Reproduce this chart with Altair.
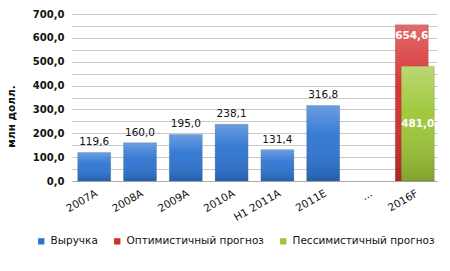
import altair as alt
import pandas as pd

categories = ["2007A", "2008A", "2009A", "2010A", "H1 2011A", "2011E", "...", "2016F"]
revenue = [119.6, 160.0, 195.0, 238.1, 131.4, 316.8, None, None]
optimistic = [None, None, None, None, None, None, None, 654.6]
pessimistic = [None, None, None, None, None, None, None, 481.0]
series_names = ["Выручка", "Оптимистичный прогноз", "Пессимистичный прогноз"]
series_colors = ["#2C74D2", "#D42B2B", "#9DC636"]
y_ticks = [0, 50, 100, 150, 200, 250, 300, 350, 400, 450, 500, 550, 600, 650, 700]

rows = []
for name, vals in zip(series_names, [revenue, optimistic, pessimistic]):
    for c, v in zip(categories, vals):
        if v is not None:
            rows.append({"cat": c, "series": name, "value": v})
df = pd.DataFrame(rows)

base = alt.Chart(df).transform_calculate(
    lbl="replace(format(datum.value, '.1f'), '.', ',')",
    mid="datum.value / 2"
)

x = alt.X("cat:N", scale=alt.Scale(domain=categories, paddingInner=0.27, paddingOuter=0.12),
          axis=alt.Axis(title=None, labelAngle=-30, labelAlign="right", labelBaseline="top",
                        labelFont="DejaVu Sans", labelFontSize=10.5, labelColor="#111",
                        labelPadding=7, ticks=False, domainColor="#aaaaaa", grid=False))
yscale = alt.Scale(domain=[0, 700], nice=False)
yaxis = alt.Axis(title="млн долл.", values=y_ticks, labelOverlap=False,
                 labelExpr="datum.value % 100 == 0 ? replace(format(datum.value, '.1f'), '.', ',') : ''",
                 labelFont="DejaVu Sans", labelFontWeight="bold", labelFontSize=10,
                 labelColor="#111", labelPadding=8,
                 titleFont="DejaVu Sans", titleFontWeight="bold", titleFontSize=10.5,
                 titleColor="#111", titleX=-56, titleY=102,
                 domain=False, ticks=False, grid=True, gridColor="#c8c8c8")
y = alt.Y("value:Q", scale=yscale, axis=yaxis)
ymid = alt.Y("mid:Q", scale=yscale, axis=yaxis)
color = alt.Color("series:N", scale=alt.Scale(domain=series_names, range=series_colors),
                  legend=alt.Legend(title=None, orient="none", direction="horizontal",
                                    legendX=-36, legendY=222, symbolType="square",
                                    symbolSize=40, labelFont="DejaVu Sans", labelFontSize=10.5,
                                    labelColor="#111", columnPadding=14, symbolStrokeWidth=0))

grad = alt.Gradient(gradient="linear", x1=0, y1=0, x2=0, y2=1,
                    stops=[alt.GradientStop(color="rgba(255,255,255,0.30)", offset=0),
                           alt.GradientStop(color="rgba(255,255,255,0.05)", offset=0.4),
                           alt.GradientStop(color="rgba(0,0,0,0.18)", offset=1)])

offsets = {"Выручка": 0, "Оптимистичный прогноз": -3, "Пессимистичный прогноз": 3}
layers = []
for name in series_names:
    b = base.transform_filter(alt.datum.series == name)
    off = offsets[name]
    layers.append(b.mark_bar(size=33, xOffset=off, stroke="#555", strokeOpacity=0.35, strokeWidth=0.6)
                  .encode(x=x, y=y, color=color))
    layers.append(b.mark_bar(size=33, xOffset=off, fill=grad).encode(x=x, y=y))

blue_text = base.transform_filter(alt.datum.series == series_names[0]).mark_text(
    baseline="bottom", dy=-5, font="DejaVu Sans", fontSize=10.5, color="#111"
).encode(x=x, y=y, text="lbl:N")
red_text = base.transform_filter(alt.datum.series == series_names[1]).mark_text(
    baseline="middle", dy=11, xOffset=-3, font="DejaVu Sans", fontSize=10.5,
    fontWeight="bold", color="white"
).encode(x=x, y=y, text="lbl:N")
green_text = base.transform_filter(alt.datum.series == series_names[2]).mark_text(
    baseline="middle", xOffset=3, font="DejaVu Sans", fontSize=10.5,
    fontWeight="bold", color="white"
).encode(x=x, y=ymid, text="lbl:N")

chart = alt.layer(*layers, blue_text, red_text, green_text).properties(
    width=365, height=167,
    autosize=alt.AutoSizeParams(type="none"),
    padding={"left": 72, "top": 14, "right": 13, "bottom": 90},
    background="white"
).configure_view(stroke=None)

chart.save("out.html", embed_options={"renderer": "svg", "actions": False})
